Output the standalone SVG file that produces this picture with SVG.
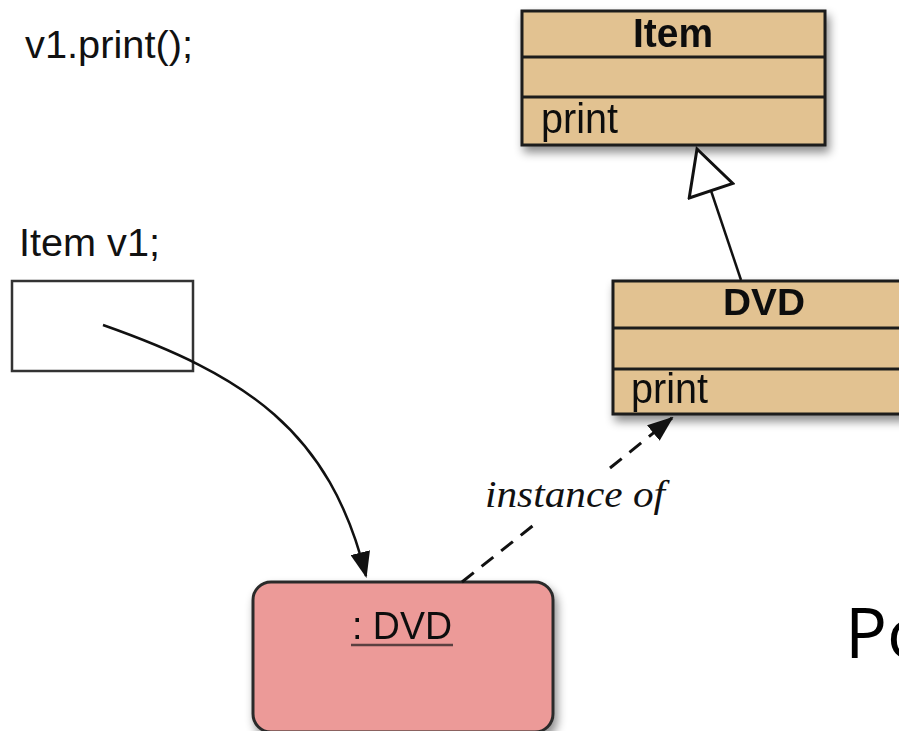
<svg xmlns="http://www.w3.org/2000/svg" width="899" height="731" viewBox="0 0 899 731">
  <defs>
    <filter id="shadow" x="-10%" y="-10%" width="130%" height="140%">
      <feDropShadow dx="3" dy="6" stdDeviation="5" flood-color="#000" flood-opacity="0.45"/>
    </filter>
    <marker id="solidHead" markerWidth="26" markerHeight="20" refX="24" refY="10" orient="auto" markerUnits="userSpaceOnUse">
      <path d="M0,0 L26,10 L0,20 Z" fill="#111"/>
    </marker>
    <marker id="hollowTri" markerWidth="50" markerHeight="50" refX="46" refY="25" orient="auto" markerUnits="userSpaceOnUse">
      <path d="M2,2 L46,25 L2,48 Z" fill="#fff" stroke="#111" stroke-width="3" stroke-linejoin="miter"/>
    </marker>
  </defs>
  <style>
    .cls { fill: #E2C291; stroke: #1c1c1c; stroke-width: 3; }
    .div { stroke: #1c1c1c; stroke-width: 3; }
    .title { font-family: "Liberation Sans", Arial, sans-serif; font-weight: bold; fill: #111; text-anchor: middle; }
    .op { font-family: "Liberation Sans", Arial, sans-serif; font-size: 42px; fill: #111; }
    .code { font-family: "Liberation Sans", Arial, sans-serif; font-size: 39px; fill: #111; }
    .conn { fill: none; stroke: #111; stroke-width: 2.5; }
    .dash { stroke-dasharray: 15,10; stroke-width: 3; }
  </style>

  <!-- code snippet labels -->
  <text class="code" x="25" y="58" textLength="168" lengthAdjust="spacingAndGlyphs">v1.print();</text>
  <text class="code" x="19" y="256" textLength="141" lengthAdjust="spacingAndGlyphs">Item v1;</text>

  <!-- variable v1 -->
  <g id="var-v1">
    <rect x="12" y="281" width="181" height="90" fill="#fff" stroke="#333" stroke-width="2.5"/>
  </g>

  <!-- class Item -->
  <g id="class-item" filter="url(#shadow)">
    <rect class="cls" x="522" y="11" width="303" height="134"/>
    <line class="div" x1="522" y1="57" x2="825" y2="57"/>
    <line class="div" x1="522" y1="97" x2="825" y2="97"/>
    <text class="title" x="673" y="47" font-size="41" textLength="80" lengthAdjust="spacingAndGlyphs">Item</text>
    <text class="op" x="541" y="133" textLength="77" lengthAdjust="spacingAndGlyphs">print</text>
  </g>

  <!-- class DVD -->
  <g id="class-dvd" filter="url(#shadow)">
    <rect class="cls" x="613" y="281" width="310" height="133"/>
    <line class="div" x1="613" y1="328" x2="923" y2="328"/>
    <line class="div" x1="613" y1="369" x2="923" y2="369"/>
    <text class="title" x="764" y="315" font-size="37" textLength="82" lengthAdjust="spacingAndGlyphs">DVD</text>
    <text class="op" x="631" y="403" textLength="77" lengthAdjust="spacingAndGlyphs">print</text>
  </g>

  <!-- object : DVD -->
  <g id="object-dvd" filter="url(#shadow)">
    <rect x="253" y="582" width="300" height="150" rx="18" ry="18" fill="#EC9A98" stroke="#2a2a2a" stroke-width="3"/>
    <text x="402" y="639" font-family="'Liberation Sans', Arial, sans-serif" font-size="38" fill="#111" text-anchor="middle" textLength="100" lengthAdjust="spacingAndGlyphs">: DVD</text>
    <line x1="351" y1="645" x2="453" y2="645" stroke="#5a4040" stroke-width="2.5"/>
  </g>

  <!-- connectors -->
  <g id="connectors">
    <!-- generalization DVD -> Item -->
    <path class="conn" d="M741,280 L697,149" marker-end="url(#hollowTri)"/>
    <!-- reference v1 -> object -->
    <path class="conn" d="M103,325 C245,375 330,430 366,576" marker-end="url(#solidHead)"/>
    <!-- instance of: object -> DVD class -->
    <path class="conn dash" d="M462,582 L535,524"/>
    <path class="conn dash" d="M610,468 L672,418" marker-end="url(#solidHead)"/>
    <text x="485" y="507" font-family="'Liberation Serif', 'Times New Roman', serif" font-style="italic" font-size="37" fill="#111" textLength="180" lengthAdjust="spacingAndGlyphs">instance of</text>
  </g>

  <!-- heading fragment -->
  <text x="845" y="658" font-family="'Open Sans', 'Noto Sans', sans-serif" font-size="70" fill="#000">Po</text>
</svg>
